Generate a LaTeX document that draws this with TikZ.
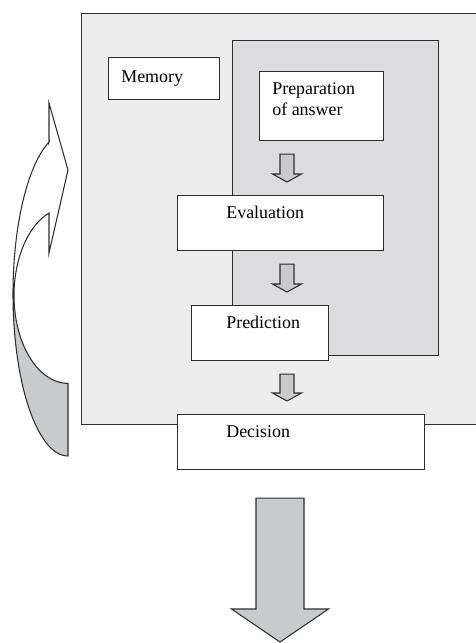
\documentclass[tikz,border=0pt]{standalone}
\usepackage{fontspec}
\setmainfont{Liberation Serif}
\usetikzlibrary{calc}

\newlength\upx
\setlength\upx{0.02cm}

\definecolor{fondoclaro}{RGB}{237,237,237}
\definecolor{fondomedio}{RGB}{220,220,222}
\definecolor{grisflecha}{RGB}{201,202,204}
\definecolor{linea}{RGB}{45,45,45}

\tikzset{
  caja/.style={draw=linea, line width=0.6pt, fill=white, anchor=north west, inner sep=0pt},
  texto/.style={anchor=base west, inner sep=0pt, font=\fontsize{10.2pt}{11.4pt}\selectfont},
  flecha/.style n args={3}{draw=linea, line width=0.6pt, fill=grisflecha, line join=miter,
    to path={($(\tikztostart)+(-#1,0)$) -- ($(\tikztotarget)+(-#1,-#3)$)
      -- ($(\tikztotarget)+(-#2,-#3)$) -- (\tikztotarget) -- ($(\tikztotarget)+(#2,-#3)$)
      -- ($(\tikztotarget)+(#1,-#3)$) -- ($(\tikztostart)+(#1,0)$) -- cycle}},
}

\begin{document}
\begin{tikzpicture}[x=1\upx, y=-1\upx]

    \useasboundingbox (0,0) rectangle (476,643);

    % Recuadros de fondo
    \node[caja, fill=fondoclaro, minimum width=400\upx, minimum height=411\upx] (exterior) at (81,13) {};
    \node[caja, fill=fondomedio, minimum width=206\upx, minimum height=315\upx] (interior) at (232,40) {};

    % Cajas
    \node[caja, minimum width=111\upx, minimum height=42\upx] (memoria) at (108,57) {};
    \node[caja, minimum width=124\upx, minimum height=69\upx] (prep) at (259,71) {};
    \node[caja, minimum width=206\upx, minimum height=55\upx] (eval) at (177,195) {};
    \node[caja, minimum width=137\upx, minimum height=55\upx] (pred) at (191,305) {};
    \node[caja, minimum width=247\upx, minimum height=55\upx] (decision) at (177,414) {};

    % Textos
    \node[texto] (tmemoria) at ($(memoria.north west)+(13,25)$) {Memory};
    \node[texto, align=left] (tprep) at ($(prep.north west)+(13,44)$) {Preparation\\of answer};
    \node[texto] (teval) at ($(eval.north west)+(49,23)$) {Evaluation};
    \node[texto] (tpred) at ($(pred.north west)+(35,23)$) {Prediction};
    \node[texto] (tdecision) at ($(decision.north west)+(49,23)$) {Decision};

    % Flechas entre cajas
    \coordinate (eje) at (287,0);
    \coordinate (salida) at (280,642);
    \coordinate (f1a) at ($(prep.south -| eje)+(0,13)$);
    \coordinate (f1b) at ($(eval.north -| eje)+(0,-13)$);
    \coordinate (f2a) at ($(eval.south -| eje)+(0,13)$);
    \coordinate (f2b) at ($(pred.north -| eje)+(0,-13)$);
    \coordinate (f3a) at ($(pred.south -| eje)+(0,13)$);
    \coordinate (f3b) at ($(decision.north -| eje)+(0,-13)$);
    \coordinate (f4a) at ($(decision.south -| salida)+(0,28)$);
    \draw[flecha={7}{14.5}{8}] (f1a) to (f1b);
    \draw[flecha={7}{14.5}{8}] (f2a) to (f2b);
    \draw[flecha={7}{14.5}{8}] (f3a) to (f3b);
    \draw[flecha={24}{48.5}{33}] (f4a) to (salida);

    % Flecha curva
    \fill[grisflecha] (13,294) arc[start angle=180, end angle=90, x radius=55, y radius=162]
      -- (68,383) arc[start angle=90, end angle=180, x radius=54, y radius=88] -- cycle;
    \draw[linea, line width=0.6pt] (49,142) -- (49,103) -- (68,170) -- (49,253) -- (49,213)
      arc[start angle=249.4, end angle=90, x radius=54, y radius=88] -- (68,456)
      arc[start angle=90, end angle=249.8, x radius=55, y radius=162] -- cycle;

  \end{tikzpicture}
\end{document}
